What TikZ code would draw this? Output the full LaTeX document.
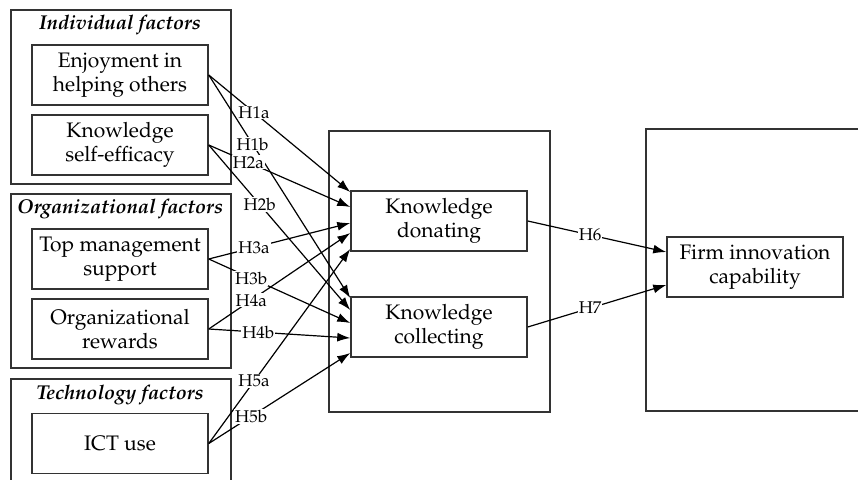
\documentclass[tikz,border=0pt]{standalone}
\usepackage[T1]{fontenc}
\usepackage{mathpazo}
\usetikzlibrary{arrows.meta}

\tikzset{
  factor/.style={draw=black!80, line width=1.5pt, minimum width=176pt, minimum height=60pt,
    align=center, inner sep=0pt, font=\fontsize{21}{23.5}\selectfont},
  group/.style={draw=black!80, line width=1.5pt, anchor=north west, inner sep=0pt},
  grouptitle/.style={font=\fontsize{20}{22}\selectfont\bfseries\itshape},
  hyp/.style={fill=white, inner sep=1pt, font=\fontsize{17}{19}\selectfont},
  link/.style={line width=1.2pt, -{Latex[length=13pt,width=9pt]}},
}

\begin{document}
\begin{tikzpicture}[x=1pt, y=-1pt]
  \useasboundingbox (0,0) rectangle (858,479);
  % factor groups
  \node[group, minimum width=220pt, minimum height=174pt] (indiv) at (10,9) {};
  \node[group, minimum width=220pt, minimum height=174pt] (orga) at (10,193) {};
  \node[group, minimum width=220pt, minimum height=130pt] (tech) at (10,378) {};
  \node[grouptitle] (indivtitle) at (120,25) {Individual factors};
  \node[grouptitle] (orgatitle) at (120,209) {Organizational factors};
  \node[grouptitle] (techtitle) at (120,395) {Technology factors};
  % antecedents
  \node[factor] (enjoy) at (120,75) {Enjoyment in\\helping others};
  \node[factor] (selfeff) at (120,145) {Knowledge\\self-efficacy};
  \node[factor] (topmgmt) at (120,259) {Top management\\support};
  \node[factor] (rewards) at (120,329) {Organizational\\rewards};
  \node[factor] (ict) at (120,443.5) {ICT use};
  % knowledge sharing
  \node[group, minimum width=221pt, minimum height=281pt] (sharing) at (328,130) {};
  \node[factor] (donating) at (439,221) {Knowledge\\donating};
  \node[factor] (collecting) at (439,327) {Knowledge\\collecting};
  % outcome
  \node[group, minimum width=250pt, minimum height=282pt] (outcome) at (645,128) {};
  \node[factor] (firm) at (755,267) {Firm innovation\\capability};
  \begin{scope}
    \draw[link] (enjoy.east) -- node[hyp, pos=.32] {H1a} ([yshift=29pt]donating.west);
    \draw[link] (enjoy.east) -- node[hyp, pos=.31] {H1b} ([yshift=29pt]collecting.west);
    \draw[link] (selfeff.east) -- node[hyp, pos=.28] {H2a} ([yshift=14pt]donating.west);
    \draw[link] (selfeff.east) -- node[hyp, pos=.36] {H2b} ([yshift=17pt]collecting.west);
    \draw[link] (topmgmt.east) -- node[hyp, pos=.32] {H3a} ([yshift=-2pt]donating.west);
    \draw[link] (topmgmt.east) -- node[hyp, pos=.3] {H3b} ([yshift=4pt]collecting.west);
    \draw[link] (rewards.east) -- node[hyp, pos=.3] {H4a} ([yshift=-12pt]donating.west);
    \draw[link] (rewards.east) -- node[hyp, pos=.35] {H4b} ([yshift=-11pt]collecting.west);
    \draw[link] (ict.east) -- node[hyp, pos=.32] {H5a} ([yshift=-28pt]donating.west);
    \draw[link] (ict.east) -- node[hyp, pos=.3] {H5b} ([yshift=-26pt]collecting.west);
    \draw[link] (donating.east) -- node[hyp, pos=.45] {H6} ([yshift=15pt]firm.west);
    \draw[link] (collecting.east) -- node[hyp, pos=.45] {H7} ([yshift=-18pt]firm.west);
  \end{scope}
\end{tikzpicture}
\end{document}
